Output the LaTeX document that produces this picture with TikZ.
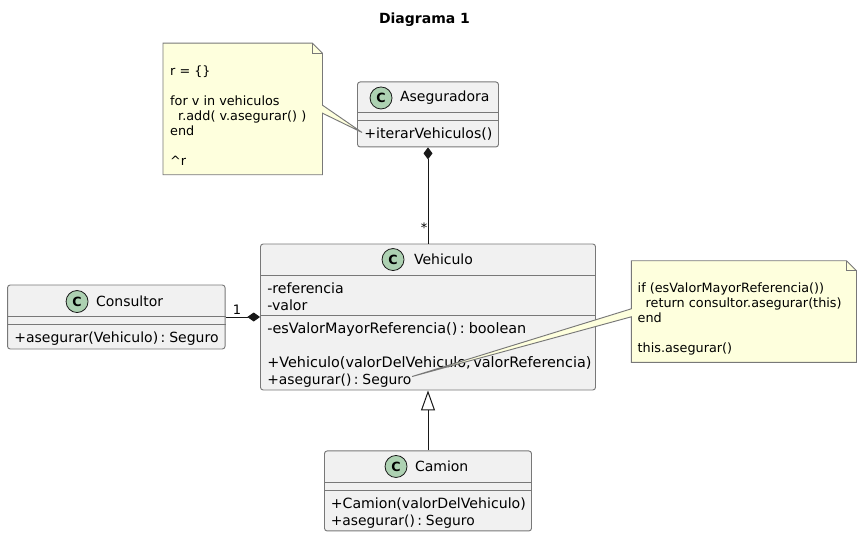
\documentclass[tikz,border=0pt]{standalone}
\usepackage{fontspec}
\usepackage{xcolor}
\usepackage{tikz}
\usetikzlibrary{arrows.meta, positioning, calc}
\setmainfont{DejaVu Sans}
\newfontfamily\memberfamily[WordSpace=0.55]{DejaVu Sans}
\definecolor{classcolor}{HTML}{F1F1F1}
\definecolor{bordercolor}{HTML}{787878}
\definecolor{spotcolor}{HTML}{ADD1B2}
\definecolor{notecolor}{HTML}{FEFFDD}
\definecolor{linecolor}{HTML}{181818}

\begin{document}
\begin{tikzpicture}[
    x=0.75pt, y=-0.75pt,
    classbox/.style={rectangle, draw=bordercolor, fill=classcolor, line width=0.7pt, rounded corners=2pt, inner sep=0pt},
    notebox/.style={rectangle, inner sep=0pt},
    notepath/.style={draw=bordercolor, fill=notecolor, line width=0.7pt},
    foldpath/.style={draw=bordercolor, line width=0.7pt},
    sepline/.style={draw=bordercolor, line width=0.7pt},
    spot/.style={circle, draw=linecolor, fill=spotcolor, line width=0.6pt, minimum size=16.5pt, inner sep=0pt, font=\fontsize{9.5}{11}\selectfont\bfseries},
    classname/.style={inner sep=0pt, font=\fontsize{10.5}{13}\selectfont},
    members/.style={inner sep=0pt, align=left, anchor=north west, font=\memberfamily\fontsize{10.6}{12.75}\selectfont},
    notetext/.style={inner sep=0pt, align=left, anchor=north west, font=\fontsize{9.6}{11.25}\selectfont},
    endlabel/.style={inner sep=0pt, font=\fontsize{9.75}{11}\selectfont},
    assoc/.style={draw=linecolor, line width=0.75pt},
]
\useasboundingbox (0,0) rectangle (861,536);

% Title
\node[inner sep=0pt, font=\fontsize{10.5}{13}\selectfont\bfseries] (title) at (424.5,19.5) {Diagrama 1};

% ============ CLASSES ============
\node[classbox, minimum width=251.25pt, minimum height=109.5pt] (vehiculo) at (428,317) {};
\node[classbox, minimum width=105.75pt, minimum height=48.75pt, above=72.1pt of vehiculo] (aseguradora) {};
\node[classbox, minimum width=163.125pt, minimum height=48pt, left=25.9pt of vehiculo] (consultor) {};
\node[classbox, minimum width=155.25pt, minimum height=60pt, below=45pt of vehiculo] (camion) {};

% Aseguradora
\node[spot] (spotaseguradora) at ($(aseguradora.north west)+(24,16.5)$) {C};
\node[classname, right=5.5pt of spotaseguradora] (nameaseguradora) {Aseguradora};
\draw[sepline] ($(aseguradora.north west)+(0,31)$) -- ($(aseguradora.north east)+(0,31)$);
\draw[sepline] ($(aseguradora.north west)+(0,39)$) -- ($(aseguradora.north east)+(0,39)$);
\node[members] (methodsaseguradora) at ($(aseguradora.north west)+(7,46)$) {+iterarVehiculos()};

% Vehiculo
\node[spot] (spotvehiculo) at ($(vehiculo.north west)+(133,16)$) {C};
\node[classname, right=7pt of spotvehiculo] (namevehiculo) {Vehiculo};
\draw[sepline] ($(vehiculo.north west)+(0,32)$) -- ($(vehiculo.north east)+(0,32)$);
\draw[sepline] ($(vehiculo.north west)+(0,72)$) -- ($(vehiculo.north east)+(0,72)$);
\node[members] (fieldsvehiculo) at ($(vehiculo.north west)+(7,39)$) {-referencia\\-valor};
\node[members, font=\memberfamily\fontsize{10.8}{12.75}\selectfont] (methodsvehiculo) at ($(vehiculo.north west)+(7,79)$) {-esValorMayorReferencia() : boolean\\\mbox{}\\+Vehiculo(valorDelVehiculo, valorReferencia)\\\fontsize{10.4}{12.75}\selectfont+asegurar() : Seguro};

% Consultor
\node[spot] (spotconsultor) at ($(consultor.north west)+(70,17)$) {C};
\node[classname, right=5.5pt of spotconsultor] (nameconsultor) {Consultor};
\draw[sepline] ($(consultor.north west)+(0,32)$) -- ($(consultor.north east)+(0,32)$);
\draw[sepline] ($(consultor.north west)+(0,40)$) -- ($(consultor.north east)+(0,40)$);
\node[members, font=\memberfamily\fontsize{10.5}{12.75}\selectfont] (methodsconsultor) at ($(consultor.north west)+(7,47)$) {+asegurar(Vehiculo) : Seguro};

% Camion
\node[spot] (spotcamion) at ($(camion.north west)+(72,16)$) {C};
\node[classname, right=5.5pt of spotcamion] (namecamion) {Camion};
\draw[sepline] ($(camion.north west)+(0,32)$) -- ($(camion.north east)+(0,32)$);
\draw[sepline] ($(camion.north west)+(0,40)$) -- ($(camion.north east)+(0,40)$);
\node[members] (methodscamion) at ($(camion.north west)+(6.5,47)$) {+Camion(valorDelVehiculo)\\\fontsize{10.4}{12.75}\selectfont+asegurar() : Seguro};

% ============ ARROWS ============
\draw[assoc, {Diamond[length=9pt, width=6.75pt, fill=linecolor]}-] (aseguradora.south) -- (vehiculo.north);
\draw[assoc, -{Diamond[length=9.5pt, width=6.75pt, fill=linecolor]}] (consultor.east) -- (vehiculo.west);
\draw[assoc, -{Triangle[open, length=15pt, width=10.5pt, fill=white]}] (camion.north) -- (vehiculo.south);
\node[endlabel] (starlabel) at (424,228) {*};
\node[endlabel] (onelabel) at (237,310) {1};

% ============ NOTES ============
\node[notebox, minimum width=119.25pt, minimum height=98.25pt, left=25.9pt of aseguradora, yshift=4.1pt] (noteiterar) {};
\coordinate (tipiterar) at ($(aseguradora.north west)+(5,51)$);
\draw[notepath] (noteiterar.north west) -- ($(noteiterar.north east)+(-10,0)$) -- ($(noteiterar.north east)+(0,10)$)
    -- ($(noteiterar.north east)+(0,62)$) -- (tipiterar) -- ($(noteiterar.north east)+(0,70)$)
    -- (noteiterar.south east) -- (noteiterar.south west) -- cycle;
\draw[foldpath] ($(noteiterar.north east)+(-10,0)$) -- ($(noteiterar.north east)+(-10,10)$) -- ($(noteiterar.north east)+(0,10)$);
\node[notetext] (textiterar) at ($(noteiterar.north west)+(7,22)$) {r = \{\}\\\mbox{}\\for v in vehiculos\\\hspace*{6pt}r.add( v.asegurar() )\\end\\\mbox{}\\\textasciicircum r};

\node[notebox, minimum width=168.4pt, minimum height=75.75pt, right=26.6pt of vehiculo, yshift=4.1pt] (noteasegurar) {};
\coordinate (tipasegurar) at ($(vehiculo.north west)+(152,133)$);
\draw[notepath] (noteasegurar.north west) -- ($(noteasegurar.north east)+(-10,0)$) -- ($(noteasegurar.north east)+(0,10)$)
    -- (noteasegurar.south east) -- (noteasegurar.south west) -- ($(noteasegurar.north west)+(0,56)$)
    -- (tipasegurar) -- ($(noteasegurar.north west)+(0,48)$) -- cycle;
\draw[foldpath] ($(noteasegurar.north east)+(-10,0)$) -- ($(noteasegurar.north east)+(-10,10)$) -- ($(noteasegurar.north east)+(0,10)$);
\node[notetext] (textasegurar) at ($(noteasegurar.north west)+(6,22)$) {if (esValorMayorReferencia())\\\hspace*{6pt}return consultor.asegurar(this)\\end\\\mbox{}\\this.asegurar()};

\end{tikzpicture}
\end{document}
